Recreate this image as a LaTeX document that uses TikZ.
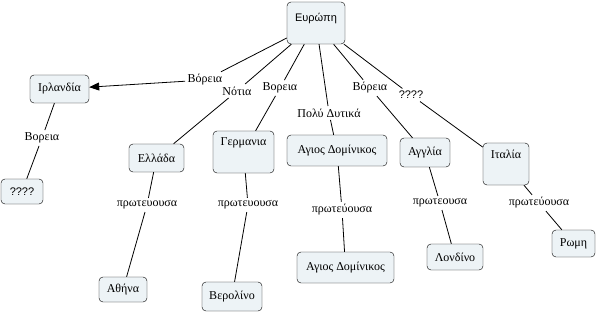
\documentclass[tikz,border=0pt]{standalone}
\usepackage{fontspec}
\setmainfont{Liberation Serif}
\newfontfamily\sansgr{Liberation Sans}
\usetikzlibrary{arrows.meta}

\tikzset{
  concept/.style={draw=black, fill={rgb,255:red,237;green,243;blue,246},
    rounded corners=4pt, inner sep=0pt, font=\fontsize{12}{14}\selectfont},
  linkword/.style={inner sep=2.5pt, font=\fontsize{12}{14}\selectfont},
  link/.style={draw=black, line width=0.8pt}
}

\begin{document}
\begin{tikzpicture}[x=1pt,y=-1pt]

\useasboundingbox (0,0) rectangle (598,313);

% Concepts
\node[concept, minimum width=58pt, text height=20pt, text depth=22pt,
  font=\sansgr\fontsize{11}{13}\selectfont] (eur) at (316,23) {Ευρώπη};
\node[concept, minimum width=59pt, minimum height=28pt] (irl) at (59.5,89) {Ιρλανδία};
\node[concept, minimum width=42pt, minimum height=25pt,
  font=\sansgr\fontsize{11}{13}\selectfont] (irlq) at (22,191.5) {????};
\node[concept, minimum width=55pt, minimum height=28pt] (ell) at (156.5,158) {Ελλάδα};
\node[concept, minimum width=61pt, text height=15pt, text depth=27pt] (ger) at (243.5,152) {Γερμανια};
\node[concept, minimum width=100pt, minimum height=31pt] (agd) at (337,150.5) {Αγιος Δομίνικος};
\node[concept, minimum width=50pt, minimum height=29pt] (agg) at (425,152.5) {Αγγλία};
\node[concept, minimum width=46pt, text height=16pt, text depth=26pt] (ita) at (506,164) {Ιταλία};

\node[concept, minimum width=48pt, minimum height=25pt] (ath) at (123,289.5) {Αθήνα};
\node[concept, minimum width=60pt, minimum height=29pt] (ber) at (232,296.5) {Βερολίνο};
\node[concept, minimum width=97pt, minimum height=31pt] (agdc) at (345.5,267.5) {Αγιος Δομίνικος};
\node[concept, minimum width=56pt, minimum height=26pt] (lon) at (455,257) {Λονδίνο};
\node[concept, minimum width=43pt, minimum height=27pt] (rom) at (573.5,243.5) {Ρωμη};

% Linking words
\node[linkword] (w-irl) at (205,80) {Βόρεια};
\node[linkword] (w-ell) at (237,91) {Νότια};
\node[linkword] (w-ger) at (280,88) {Βορεια};
\node[linkword] (w-agd) at (329,113) {Πολύ Δυτικά};
\node[linkword] (w-agg) at (370,88) {Βόρεια};
\node[linkword, font=\sansgr\fontsize{11}{13}\selectfont] (w-ita) at (411,95) {????};
\node[linkword] (w-irlq) at (42,138) {Βορεια};

\node[linkword] (c-ell) at (147,205) {πρωτευουσα};
\node[linkword] (c-ger) at (248,205) {πρωτευουσα};
\node[linkword] (c-agd) at (342,210) {πρωτεύουσα};
\node[linkword] (c-agg) at (440,203) {πρωτεουσα};
\node[linkword] (c-ita) at (539,203) {πρωτεύουσα};

% Liens
\draw[link] (eur) -- (w-irl);
\draw[link, -{Triangle[length=10pt,width=8pt]}] (w-irl) -- (irl);
\draw[link] (eur) -- (w-ell) -- (ell);
\draw[link] (eur) -- (w-ger) -- (ger);
\draw[link] (eur) -- (w-agd) -- (agd);
\draw[link] (eur) -- (w-agg) -- (agg);
\draw[link] (eur) -- (w-ita) -- (ita);
\draw[link] (irl) -- (w-irlq) -- (irlq);

\draw[link] (ell) -- (c-ell) -- (ath);
\draw[link] (ger) -- (c-ger) -- (ber);
\draw[link] (agd) -- (c-agd) -- (agdc);
\draw[link] (agg) -- (c-agg) -- (lon);
\draw[link] (ita) -- (c-ita) -- (rom);

\end{tikzpicture}
\end{document}
